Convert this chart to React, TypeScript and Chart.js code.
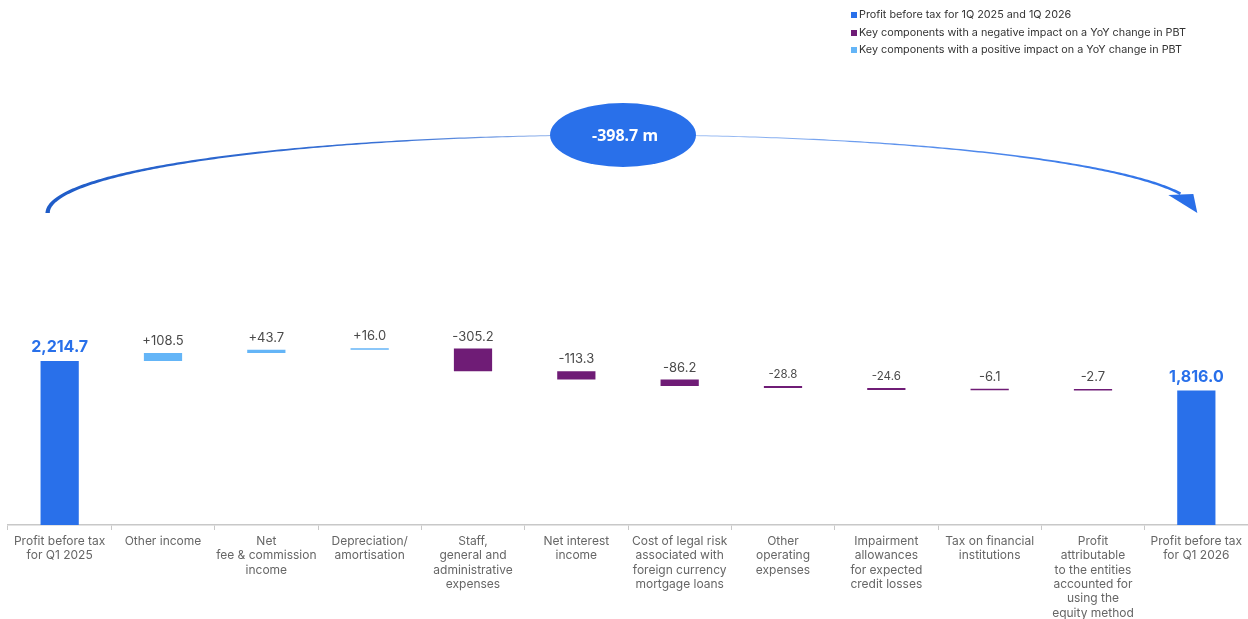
import React, { useEffect, useRef } from "react";
import { Chart, registerables } from "chart.js";

Chart.register(...registerables);

const categories: string[][] = [
  ["Profit before tax", "for Q1 2025"],
  ["Other income"],
  ["Net", "fee & commission", "income"],
  ["Depreciation/", "amortisation"],
  ["Staff,", "general and", "administrative", "expenses"],
  ["Net interest", "income"],
  ["Cost of legal risk", "associated with", "foreign currency", "mortgage loans"],
  ["Other", "operating", "expenses"],
  ["Impairment", "allowances", "for expected", "credit losses"],
  ["Tax on financial", "institutions"],
  ["Profit", "attributable", "to the entities", "accounted for", "using the", "equity method"],
  ["Profit before tax", "for Q1 2026"],
];
const startValue = 2214.7;
const changes = [108.5, 43.7, 16.0, -305.2, -113.3, -86.2, -28.8, -24.6, -6.1, -2.7];
const endValue = 1816.0;
const totalChangeLabel = "-398.7 m";
const legendLabels = [
  "Profit before tax for 1Q 2025 and 1Q 2026",
  "Key components with a negative impact on a YoY change in PBT",
  "Key components with a positive impact on a YoY change in PBT",
];

const COLOR_TOTAL = "#2970EA";
const COLOR_NEG = "#6F1C76";
const COLOR_POS = "#64B5F7";
const FONT = "Inter, 'Noto Sans', sans-serif";

export default function App() {
  const ref = useRef<HTMLCanvasElement | null>(null);

  useEffect(() => {
    if (!ref.current) return;

    const floats: [number, number][] = [];
    const kinds: string[] = [];
    floats.push([0, startValue]);
    kinds.push("total");
    let run = startValue;
    for (const c of changes) {
      floats.push([run, run + c]);
      kinds.push(c >= 0 ? "pos" : "neg");
      run += c;
    }
    floats.push([0, endValue]);
    kinds.push("total");
    const colors = kinds.map((k) => (k === "total" ? COLOR_TOTAL : k === "neg" ? COLOR_NEG : COLOR_POS));
    const labels = [
      startValue.toLocaleString("en-US", { minimumFractionDigits: 1, maximumFractionDigits: 1 }),
      ...changes.map((c) => (c >= 0 ? "+" : "") + c.toFixed(1)),
      endValue.toLocaleString("en-US", { minimumFractionDigits: 1, maximumFractionDigits: 1 }),
    ];
    const smallLabelIdx = [7, 8];

    const labelPlugin = {
      id: "barLabels",
      afterDatasetsDraw(chart: any) {
        const ctx = chart.ctx;
        const meta = chart.getDatasetMeta(0);
        ctx.save();
        ctx.textAlign = "center";
        ctx.textBaseline = "alphabetic";
        meta.data.forEach((el: any, i: number) => {
          const top = Math.min(el.y, el.base);
          if (kinds[i] === "total") {
            ctx.font = `bold 16px ${FONT}`;
            ctx.fillStyle = COLOR_TOTAL;
            ctx.fillText(labels[i], el.x, top - 9);
          } else {
            const sz = smallLabelIdx.includes(i) ? 11.5 : 13;
            ctx.font = `${sz}px ${FONT}`;
            ctx.fillStyle = "#4a4a4a";
            ctx.fillText(labels[i], el.x, top - 8);
          }
        });
        ctx.restore();
      },
    };

    const decoPlugin = {
      id: "deco",
      afterDraw(chart: any) {
        const ctx = chart.ctx;
        const xs = chart.scales.x;
        const x0 = xs.getPixelForValue(0) - 12;
        const x1 = xs.getPixelForValue(categories.length - 1) + 2;
        const cx = (x0 + x1) / 2;
        const rx = (x1 - x0) / 2;
        const cy = 213;
        const ry = 78;

        const N = 300;
        const tEnd = 2 * Math.PI - 0.25;
        const outer: [number, number][] = [];
        const inner: [number, number][] = [];
        for (let k = 0; k <= N; k++) {
          const t = Math.PI + (tEnd - Math.PI) * (k / N);
          const px = cx + rx * Math.cos(t);
          const py = cy + ry * Math.sin(t);
          let nx = -ry * Math.cos(t);
          let ny = -rx * Math.sin(t);
          const nl = Math.hypot(nx, ny) || 1;
          nx /= nl;
          ny /= nl;
          const f = (t - Math.PI) / Math.PI;
          let w: number;
          if (f < 0.5) w = 4.5 - (4.5 - 0.8) * Math.pow(f / 0.5, 0.6);
          else w = 0.8 + (3.2 - 0.8) * Math.pow((f - 0.5) / 0.5, 1.4);
          outer.push([px + (nx * w) / 2, py + (ny * w) / 2]);
          inner.push([px - (nx * w) / 2, py - (ny * w) / 2]);
        }
        const grad = ctx.createLinearGradient(x0, 0, x1, 0);
        grad.addColorStop(0, "#1F5CC8");
        grad.addColorStop(0.3, "#3A72D6");
        grad.addColorStop(0.5, "#B8D0F5");
        grad.addColorStop(0.75, "#5A90EC");
        grad.addColorStop(1, "#2A6FE8");
        ctx.save();
        ctx.beginPath();
        outer.forEach(([x, y], i) => (i === 0 ? ctx.moveTo(x, y) : ctx.lineTo(x, y)));
        for (let i = inner.length - 1; i >= 0; i--) ctx.lineTo(inner[i][0], inner[i][1]);
        ctx.closePath();
        ctx.fillStyle = grad;
        ctx.fill();

        ctx.beginPath();
        ctx.moveTo(x1 - 30, cy - 18);
        ctx.lineTo(x1 - 5, cy - 19);
        ctx.lineTo(x1 - 1, cy);
        ctx.closePath();
        ctx.fillStyle = "#2A6FE8";
        ctx.fill();

        ctx.beginPath();
        ctx.ellipse(cx, cy - ry, 73, 32, 0, 0, Math.PI * 2);
        ctx.fillStyle = COLOR_TOTAL;
        ctx.fill();
        ctx.fillStyle = "#ffffff";
        ctx.font = `bold 16px 'Noto Sans', sans-serif`;
        ctx.textAlign = "center";
        ctx.textBaseline = "middle";
        ctx.fillText(totalChangeLabel, cx + 2, cy - ry + 1);

        const lx = 851;
        const rows = [15, 33, 50];
        const lc = [COLOR_TOTAL, COLOR_NEG, COLOR_POS];
        ctx.font = `10.8px ${FONT}`;
        ctx.textAlign = "left";
        ctx.textBaseline = "middle";
        legendLabels.forEach((t, i) => {
          ctx.fillStyle = lc[i];
          ctx.fillRect(lx, rows[i] - 3, 6, 6);
          ctx.fillStyle = "#333333";
          ctx.fillText(t, lx + 8, rows[i]);
        });
        ctx.restore();
      },
    };

    const chart = new Chart(ref.current, {
      type: "bar",
      data: {
        labels: categories,
        datasets: [
          {
            data: floats as any,
            backgroundColor: colors,
            borderWidth: 0,
            barPercentage: 0.37,
            categoryPercentage: 1,
            minBarLength: 1.5,
          },
        ],
      },
      options: {
        responsive: false,
        animation: false,
        layout: { padding: { left: 8, right: 0, top: 0, bottom: 0 } },
        plugins: {
          legend: { display: false },
          tooltip: { enabled: false },
        },
        scales: {
          x: {
            grid: {
              offset: true,
              drawOnChartArea: false,
              tickLength: 5,
              color: "#c8c8c8",
            },
            border: { color: "#c8c8c8", width: 1.5 },
            ticks: {
              color: "#666666",
              font: { family: FONT, size: 12, lineHeight: 1.2 },
              maxRotation: 0,
              autoSkip: false,
              padding: 4,
            },
            afterFit: (scale: any) => {
              scale.height = 94;
            },
          },
          y: {
            display: false,
            min: 0,
            max: 7090,
          },
        },
      },
      plugins: [labelPlugin, decoPlugin],
    });
    return () => chart.destroy();
  }, []);

  return (
    <canvas
      ref={ref}
      width={1248}
      height={619}
      style={{ position: "fixed", left: 0, top: 0, display: "block", background: "#ffffff" }}
    />
  );
}
